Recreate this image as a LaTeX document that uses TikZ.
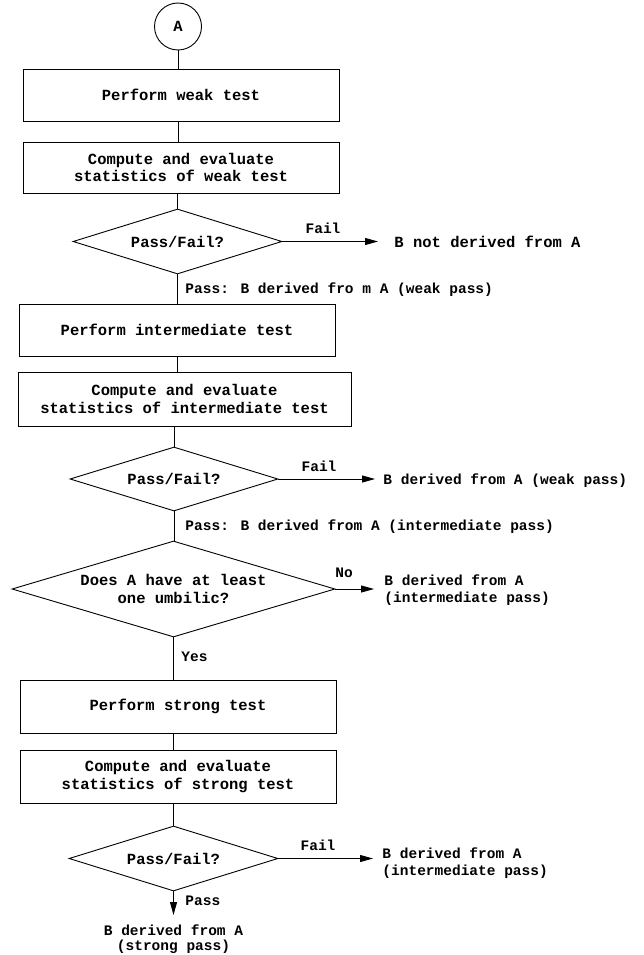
\documentclass[tikz,border=0pt]{standalone}
\usepackage{fontspec}
\setmainfont{Liberation Mono}
\usetikzlibrary{shapes.geometric}
\usetikzlibrary{arrows.meta}

\begin{document}
\begin{tikzpicture}[x=1pt,y=-1pt,line width=0.9pt] %% tikz
	\tikzstyle{kuang}=[draw,rectangle,minimum width=316pt,minimum height=52pt,inner sep=0pt,align=center,font=\bfseries\fontsize{15.5}{17.7}\selectfont];
	\tikzstyle{lingxing}=[draw,diamond,aspect=3.2,inner sep=0pt,minimum width=209pt,minimum height=65pt,align=center,font=\bfseries\fontsize{15.5}{17.7}\selectfont];
	\tikzstyle{wenzi}=[inner sep=2pt,align=left,font=\bfseries\fontsize{14.5}{17}\selectfont];
	\tikzstyle{jiantou}=[-{Triangle[length=13pt,width=7pt]}];
	\useasboundingbox (0,0) rectangle (644,955);
	%% main column
	\node[draw,circle,minimum size=47pt,inner sep=0pt,font=\bfseries\fontsize{15.5}{17.7}\selectfont] (A) at (178,26.5) {A};
	\node[kuang] (b1) at (181,95) {Perform weak test};
	\node[kuang,minimum height=51pt] (b2) at (181,167.5) {Compute and evaluate\\statistics of weak test};
	\node[lingxing] (d1) at (177.5,241.5) {Pass/Fail?};
	\node[kuang] (b3) at (177,330) {Perform intermediate test};
	\node[kuang,minimum width=333pt,minimum height=54pt] (b4) at (184.5,399) {Compute and evaluate\\statistics of intermediate test};
	\node[lingxing,minimum width=208pt,minimum height=64pt] (d2) at (174,479) {Pass/Fail?};
	\node[lingxing,minimum width=323pt,minimum height=96pt] (d3) at (173.5,589) {Does A have at least\\one umbilic?};
	\node[kuang,minimum height=53pt] (b5) at (178,706.5) {Perform strong test};
	\node[kuang,minimum height=53pt] (b6) at (178,776.5) {Compute and evaluate\\statistics of strong test};
	\node[lingxing] (d4) at (173.5,858.5) {Pass/Fail?};
	%% outcomes
	\node[wenzi,anchor=west,font=\bfseries\fontsize{15.5}{17.7}\selectfont] (r1) at (392,242) {B not derived from A};
	\node[wenzi,anchor=west] (r2) at (381,481) {B derived from A (weak pass)};
	\node[wenzi,anchor=west] (r3) at (382,590.5) {B derived from A\\(intermediate pass)};
	\node[wenzi,anchor=west] (r4) at (380,863.5) {B derived from A\\(intermediate pass)};
	\node[wenzi,anchor=north,align=center,font=\bfseries\fontsize{14.5}{15}\selectfont] (r5) at (173.5,922) {B derived from A\\(strong pass)};
	%% labels
	\node[wenzi] (f1) at (323,228) {Fail};
	\node[wenzi] (f2) at (319,466) {Fail};
	\node[wenzi] (no) at (344,573) {No};
	\node[wenzi] (f4) at (318,845) {Fail};
	\node[wenzi,anchor=west] (p1) at (183,290) {Pass: B derived fro m A (weak pass)};
	\node[wenzi,anchor=west] (p2) at (183,527) {Pass: B derived from A (intermediate pass)};
	\node[wenzi,anchor=west] (yes) at (179,657) {Yes};
	\node[wenzi,anchor=west] (p4) at (183,901) {Pass};
	%% connectors
	\draw (A.south) -- (A.south |- b1.north);
	\draw (A.south |- b1.south) -- (A.south |- b2.north);
	\draw (d1.north |- b2.south) -- (d1.north);
	\draw (d1.south) -- (d1.south |- b3.north);
	\draw (b3.south) -- (b3.south |- b4.north);
	\draw (d2.north |- b4.south) -- (d2.north);
	\draw (d2.south) -- (d2.south |- d3.north);
	\draw (d3.south) -- (d3.south |- b5.north);
	\draw (d3.south |- b5.south) -- (d3.south |- b6.north);
	\draw (d4.north |- b6.south) -- (d4.north);
	\draw[jiantou,shorten >=14pt] (d1.east) -- (d1.east -| r1.west);
	\draw[jiantou,shorten >=6pt] (d2.east) -- (d2.east -| r2.west);
	\draw[jiantou,shorten >=8pt] (d3.east) -- (d3.east -| r3.west);
	\draw[jiantou,shorten >=7pt] (d4.east) -- (d4.east -| r4.west);
	\draw[jiantou,shorten >=7pt] (d4.south) -- (d4.south |- r5.north);
\end{tikzpicture}
\end{document}
